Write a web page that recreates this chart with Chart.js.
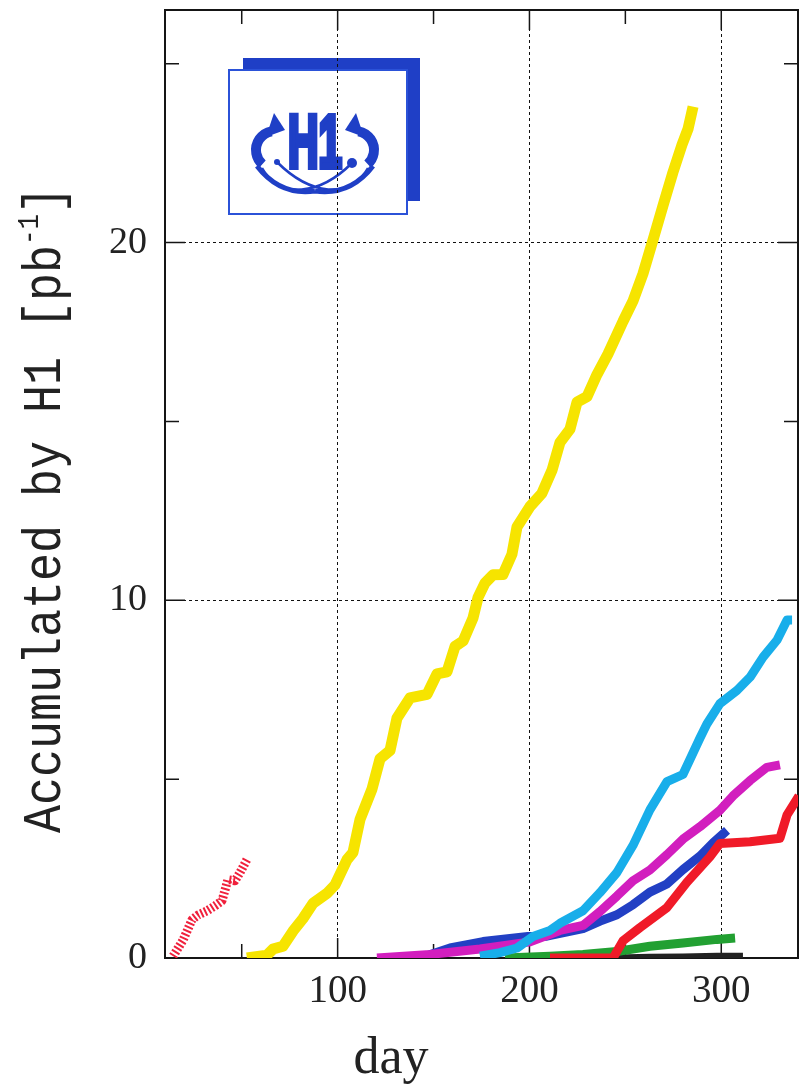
<!doctype html>
<html>

<head>
	<title>H1 accumulated luminosity</title>
	<script src="https://cdn.jsdelivr.net/npm/chart.js@4.4.0/dist/chart.umd.min.js"></script>
	<style>
		html, body { margin: 0; padding: 0; background: #fff; }
		canvas { display: block; }
	</style>
</head>

<body>
	<canvas id="lumi" width="799" height="1088"></canvas>
	<script>
		// day of year vs accumulated luminosity [pb^-1], one pair of arrays per year
		var dottedDays = [14.2, 19.4, 24.1, 27.2, 31.9, 36.1, 39.7, 41.3, 42.8, 46.5, 49.1, 52.7];
		var dottedLumi = [0.05, 0.5, 1.07, 1.2, 1.32, 1.46, 1.6, 1.9, 2.19, 2.16, 2.39, 2.75];

		var yellowDays = [52.7, 63.2, 66.3, 71.5, 76.7, 81.9, 87.2, 94.5, 98.6, 104.9,
			108, 111.7, 117.9, 122.1, 127.3, 130.9, 137.7, 146.6, 151.8, 157,
			161.2, 165.4, 170.6, 173.2, 176.8, 181, 186.2, 190.9, 193.5, 200.3,
			206.5, 211.8, 215.9, 221.1, 224.8, 230, 235.2, 240.9, 248.8, 254,
			259.2, 264.4, 269.6, 274.8, 279.5, 282.7, 285.3];
		var yellowLumi = [0, 0.08, 0.25, 0.33, 0.75, 1.1, 1.53, 1.81, 2.04, 2.75,
			2.95, 3.88, 4.72, 5.57, 5.8, 6.7, 7.27, 7.37, 7.94, 8.0,
			8.71, 8.86, 9.51, 10.08, 10.48, 10.71, 10.72, 11.29, 12.05, 12.62,
			12.99, 13.64, 14.41, 14.78, 15.54, 15.69, 16.31, 16.88, 17.8, 18.37,
			19.13, 20.07, 21.03, 21.96, 22.73, 23.18, 23.8];

		var blueDays = [142.9, 158.6, 175.8, 199.2, 209.1, 227.9, 236.8, 245.6, 254, 262.8, 271.7, 280, 288.9, 295.7, 303];
		var blueLumi = [0, 0.28, 0.46, 0.6, 0.61, 0.82, 1.03, 1.21, 1.49, 1.84, 2.07, 2.47, 2.85, 3.22, 3.57];

		var magentaDays = [120.5, 148.2, 174.2, 200.3, 215.9, 227.9, 236.8, 245.6, 254, 262.8, 271.7, 280, 288.9, 299.3, 306.1, 315, 323.8, 330.6];
		var magentaLumi = [0, 0.1, 0.25, 0.45, 0.77, 0.91, 1.3, 1.73, 2.16, 2.46, 2.89, 3.32, 3.67, 4.13, 4.53, 4.96, 5.33, 5.4];

		var cyanDays = [174.2, 184.6, 193.5, 201.8, 210.7, 215.9, 227.9, 236.8, 245.6, 254, 262.8, 271.7, 280, 288.9, 292.5, 299.3, 308.2, 315, 321.8, 329.1, 334.3, 336.9];
		var cyanLumi = [0.05, 0.15, 0.28, 0.6, 0.77, 0.97, 1.32, 1.83, 2.39, 3.15, 4.14, 4.93, 5.13, 6.15, 6.54, 7.11, 7.48, 7.85, 8.41, 8.89, 9.45, 9.45];

		var greenDays = [187.3, 210.7, 227.9, 245.6, 262.8, 280, 297.8, 307.2];
		var greenLumi = [0, 0.05, 0.1, 0.18, 0.33, 0.42, 0.52, 0.56];

		var redDays = [210.7, 243.6, 248.8, 257.6, 271.7, 282.1, 294.1, 299.3, 315, 330.6, 334.3, 340.5, 344.2];
		var redLumi = [0, 0, 0.48, 0.85, 1.41, 2.12, 2.83, 3.2, 3.25, 3.35, 4.0, 4.53, 4.9];

		var blackDays = [245.6, 262.8, 280, 297.8, 311.3];
		var blackLumi = [0, 0.02, 0.03, 0.05, 0.05];

		var xTickLabels = [100, 200, 300];
		var yTickLabels = [0, 10, 20];

		function pts(days, lumi) {
			return days.map(function (d, i) { return { x: d, y: lumi[i] }; });
		}

		function line(days, lumi, color, width) {
			return {
				data: pts(days, lumi),
				borderColor: color,
				borderWidth: width || 9,
				pointRadius: 0,
				tension: 0,
				borderJoinStyle: 'round',
				fill: false
			};
		}

		var dotted = line(dottedDays, dottedLumi, '#f0203c', 9);
		dotted.borderDash = [2, 2];

		// first dataset ends up on top
		var datasets = [
			line(yellowDays, yellowLumi, '#f6e400', 11),
			dotted,
			line(cyanDays, cyanLumi, '#18aeea'),
			line(redDays, redLumi, '#f01a28'),
			line(greenDays, greenLumi, '#22a032'),
			line(blackDays, blackLumi, '#222222', 7),
			line(magentaDays, magentaLumi, '#d21ebe'),
			line(blueDays, blueLumi, '#2240c4')
		];

		var BLUE = '#1f3fc6';

		function drawLogo(c) {
			c.save();
			c.fillStyle = BLUE;
			c.fillRect(243, 58, 177, 143);
			c.fillStyle = '#fff';
			c.fillRect(229, 70, 178, 144);
			c.strokeStyle = '#2b52d8';
			c.lineWidth = 2;
			c.strokeRect(229, 70, 178, 144);

			// H1 letters, heavy
			c.fillStyle = BLUE;
			c.strokeStyle = BLUE;
			c.font = 'bold 74px "Liberation Sans"';
			c.textBaseline = 'alphabetic';
			c.save();
			c.translate(288, 167);
			c.scale(0.57, 1);
			c.lineWidth = 6;
			c.lineJoin = 'miter';
			c.fillText('H1', 0, 0);
			c.strokeText('H1', 0, 0);
			c.restore();

			// swooshes either side
			c.lineCap = 'butt';
			[[-1, 275], [1, 355]].forEach(function (s) {
				var dir = s[0], cx = s[1];
				c.lineWidth = 10;
				c.beginPath();
				if (dir < 0) c.arc(cx, 150, 19, -1.75, 2.3, true);
				else c.arc(cx, 150, 19, -1.39, 0.84, false);
				c.stroke();
				// arrow head
				var hx = dir < 0 ? cx - 1 : cx + 1;
				c.beginPath();
				c.moveTo(hx, 113);
				c.lineTo(hx - dir * 11, 130);
				c.lineTo(hx + dir * 8, 137);
				c.closePath();
				c.fill();
			});

			// thin crossing loops under the letters
			c.lineWidth = 2.5;
			c.beginPath();
			c.moveTo(262, 168);
			c.bezierCurveTo(280, 200, 320, 195, 352, 163);
			c.moveTo(368, 168);
			c.bezierCurveTo(350, 200, 310, 195, 277, 162);
			c.stroke();
			c.lineWidth = 5;
			c.beginPath();
			c.moveTo(257, 166);
			c.quadraticCurveTo(280, 196, 315, 191);
			c.moveTo(373, 166);
			c.quadraticCurveTo(350, 196, 315, 191);
			c.stroke();

			c.beginPath();
			c.arc(277, 162, 3, 0, Math.PI * 2);
			c.fill();
			c.beginPath();
			c.arc(352, 163, 5, 0, Math.PI * 2);
			c.fill();
			c.restore();
		}

		var decor = {
			id: 'decor',
			beforeDraw: function (chart) {
				drawLogo(chart.ctx);
			},
			beforeDatasetsDraw: function (chart) {
				var c = chart.ctx, a = chart.chartArea;
				var xs = chart.scales.x, ys = chart.scales.y;
				c.save();
				c.strokeStyle = '#151515';
				c.lineWidth = 2;
				c.strokeRect(a.left, a.top, a.right - a.left, a.bottom - a.top);
				c.lineWidth = 1.5;
				c.beginPath();
				for (var d = 50; d <= 300; d += 50) {
					var px = xs.getPixelForValue(d);
					var len = d % 100 === 0 ? 20 : 14;
					c.moveTo(px, a.bottom); c.lineTo(px, a.bottom - len);
					c.moveTo(px, a.top); c.lineTo(px, a.top + len);
				}
				for (var v = 5; v <= 25; v += 5) {
					var py = ys.getPixelForValue(v);
					var l2 = v % 10 === 0 ? 20 : 14;
					c.moveTo(a.left, py); c.lineTo(a.left + l2, py);
					c.moveTo(a.right, py); c.lineTo(a.right - l2, py);
				}
				c.stroke();
				c.restore();
			},
			afterDraw: function (chart) {
				var c = chart.ctx;
				c.save();
				c.fillStyle = '#222';
				c.font = '52px "Liberation Serif"';
				c.textAlign = 'center';
				c.textBaseline = 'alphabetic';
				c.fillText('day', 391, 1073);

				// y title, typewriter look, squeezed along its length
				var main = 'Accumulated by H1 [pb', sup = '-1', tail = ']';
				var big = '54px "Liberation Mono"', small = '30px "Liberation Mono"';
				c.font = big;
				var w1 = c.measureText(main).width, w3 = c.measureText(tail).width;
				c.font = small;
				var w2 = c.measureText(sup).width;
				var total = w1 + w2 + w3;
				var sx = 647 / total;
				c.translate(60, 833);
				c.rotate(-Math.PI / 2);
				c.scale(sx, 1);
				c.textAlign = 'left';
				c.font = big;
				c.fillText(main, 0, 0);
				c.font = small;
				c.fillText(sup, w1, -22);
				c.font = big;
				c.fillText(tail, w1 + w2, 0);
				c.restore();
			}
		};

		var config = {
			type: 'line',
			data: { datasets: datasets },
			options: {
				responsive: false,
				animation: false,
				layout: { padding: { top: 10, right: 1, left: 0, bottom: 0 } },
				plugins: {
					legend: { display: false },
					tooltip: { enabled: false },
					title: { display: false }
				},
				scales: {
					x: {
						type: 'linear',
						min: 10,
						max: 340,
						afterFit: function (s) {
							s.height = 130;
							s.paddingLeft = 0;
							s.paddingRight = 0;
						},
						border: { display: false, dash: [3, 3] },
						grid: {
							drawTicks: false,
							color: function (ctx) {
								return xTickLabels.indexOf(ctx.tick && ctx.tick.value) >= 0 ? '#111' : 'rgba(0,0,0,0)';
							},
							lineWidth: 1
						},
						ticks: {
							stepSize: 50,
							includeBounds: false,
							padding: 10,
							color: '#222',
							font: { family: '"Liberation Serif"', size: 39 },
							maxRotation: 0,
							autoSkip: false,
							callback: function (v) { return xTickLabels.indexOf(v) >= 0 ? String(v) : ''; }
						}
					},
					y: {
						min: 0,
						max: 26.5,
						afterFit: function (s) {
							s.width = 165;
							s.paddingTop = 0;
							s.paddingBottom = 0;
						},
						border: { display: false, dash: [3, 3] },
						grid: {
							drawTicks: false,
							color: function (ctx) {
								var v = ctx.tick && ctx.tick.value;
								return (v === 10 || v === 20) ? '#111' : 'rgba(0,0,0,0)';
							},
							lineWidth: 1
						},
						ticks: {
							stepSize: 5,
							includeBounds: false,
							padding: 18,
							color: '#222',
							font: { family: '"Liberation Serif"', size: 38 },
							autoSkip: false,
							callback: function (v) { return yTickLabels.indexOf(v) >= 0 ? String(v) : ''; }
						}
					}
				}
			},
			plugins: [decor]
		};

		window.onload = function () {
			var ctx = document.getElementById('lumi').getContext('2d');
			window.lumiChart = new Chart(ctx, config);
		};
	</script>
</body>

</html>
